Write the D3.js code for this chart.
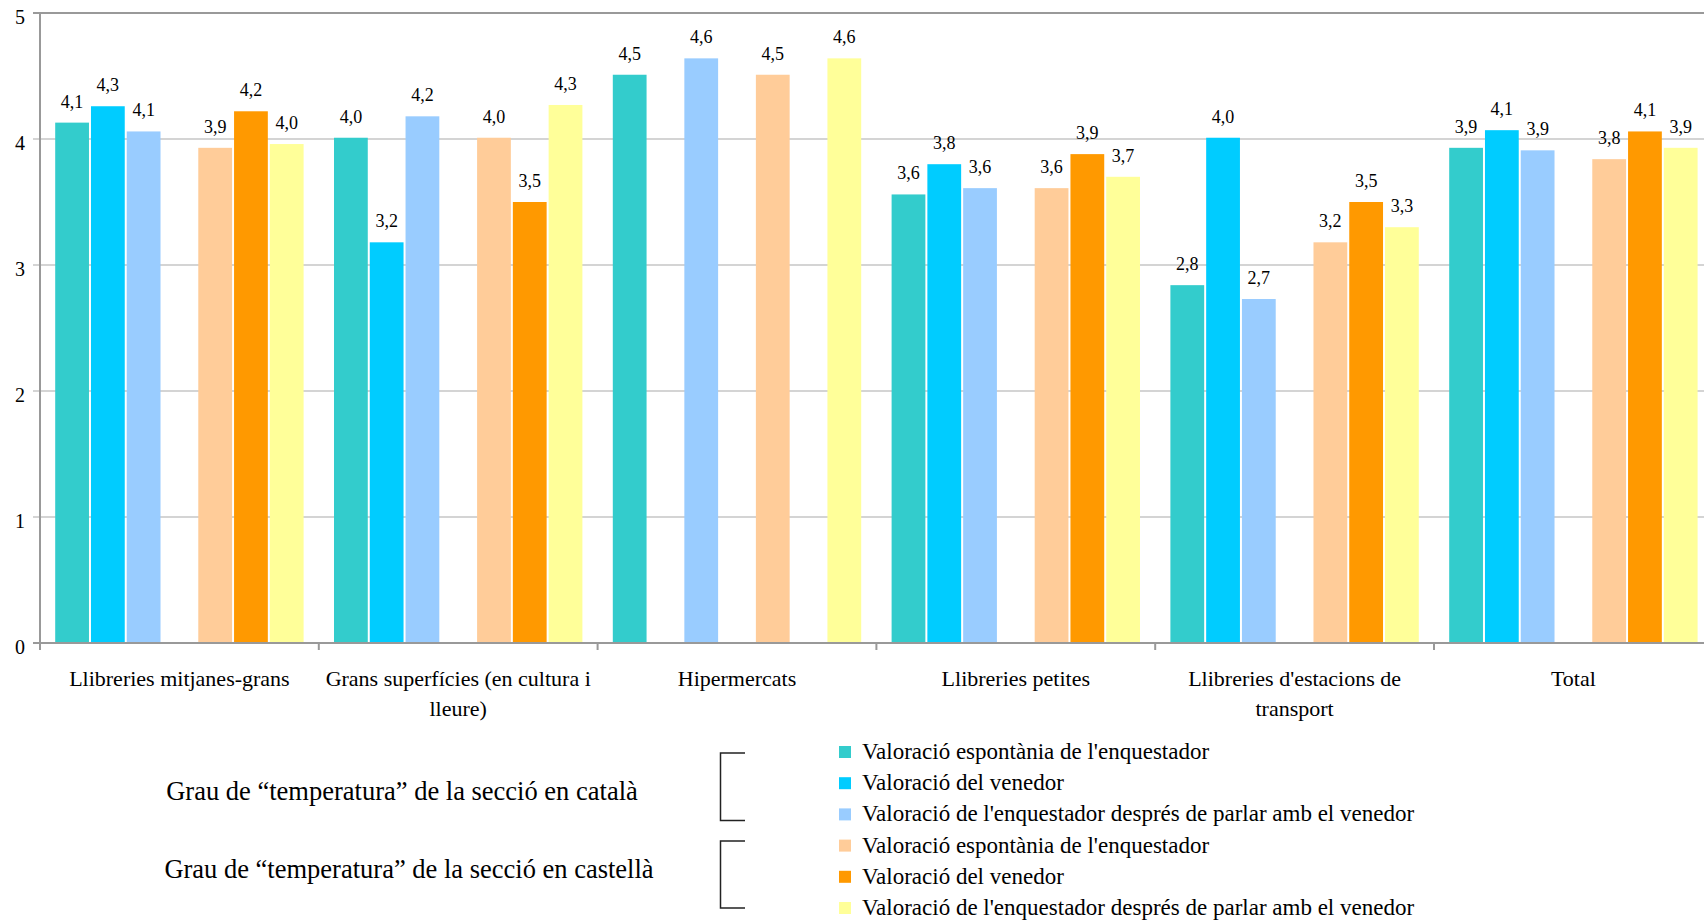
<!DOCTYPE html>
<html lang="ca">
    <head>
        <meta charset="utf-8">
        <script type="text/javascript" src="https://cdn.jsdelivr.net/npm/d3@7/dist/d3.min.js"></script>
        <style type="text/css">
        body{
          margin: 0;
          background: #fff;
          font-family: "Liberation Serif", serif;
        }
        </style>
    </head>
    <body>
        <script type="text/javascript">
        // categories and wrapped tick labels
        var categories = ["Llibreries mitjanes-grans", "Grans superfícies (en cultura i lleure)", "Hipermercats",
                          "Llibreries petites", "Llibreries d'estacions de transport", "Total"];
        var categoryLines = [["Llibreries mitjanes-grans"], ["Grans superfícies (en cultura i", "lleure)"], ["Hipermercats"],
                             ["Llibreries petites"], ["Llibreries d'estacions de", "transport"], ["Total"]];

        // values per series (null = no bar)
        var catEspontania = [4.13, 4.01, 4.51, 3.56, 2.84, 3.93];
        var catVenedor    = [4.26, 3.18, null, 3.80, 4.01, 4.07];
        var catDespres    = [4.06, 4.18, 4.64, 3.61, 2.73, 3.91];
        var casEspontania = [3.93, 4.01, 4.51, 3.61, 3.18, 3.84];
        var casVenedor    = [4.22, 3.50, null, 3.88, 3.50, 4.06];
        var casDespres    = [3.96, 4.27, 4.64, 3.70, 3.30, 3.93];

        var seriesNames = ["Valoració espontània de l'enquestador", "Valoració del venedor",
                           "Valoració de l'enquestador després de parlar amb el venedor",
                           "Valoració espontània de l'enquestador", "Valoració del venedor",
                           "Valoració de l'enquestador després de parlar amb el venedor"];
        var groupLabels = ["Grau de “temperatura” de la secció en català", "Grau de “temperatura” de la secció en castellà"];
        var yTicks = [0, 1, 2, 3, 4, 5];

        var colors = ["#33cccc", "#00ccff", "#99ccff", "#ffcc99", "#ff9900", "#ffff99"];
        // slot in each cluster (slot 3 stays empty between the two languages)
        var slots = [0, 1, 2, 4, 5, 6];

        var allSeries = [catEspontania, catVenedor, catDespres, casEspontania, casVenedor, casDespres];

        var w = 1704;
        var h = 924;
        var plotLeft = 40, plotTop = 13, plotBottom = 643;
        var catWidth = 278.8;

        var svg = d3.select("body").append("svg")
            .attr("width", w)
            .attr("height", h);

        var x0 = d3.scaleBand()
            .domain(categories)
            .range([plotLeft, plotLeft + catWidth * categories.length]);

        var x1 = d3.scaleBand()
            .domain(d3.range(7))
            .range([14.2, catWidth - 14.2]);

        var y = d3.scaleLinear()
            .domain([0, 5])
            .range([plotBottom, plotTop]);

        // gridlines
        svg.append("g")
            .selectAll("line")
            .data(yTicks.filter(function(d){ return d > 0; }))
            .enter()
            .append("line")
            .attr("x1", plotLeft - 7)
            .attr("x2", w)
            .attr("y1", function(d){ return y(d); })
            .attr("y2", function(d){ return y(d); })
            .attr("stroke", function(d){ return d == 5 ? "#999" : "#c6c6c6"; })
            .attr("stroke-width", function(d){ return d == 5 ? 2 : 1.5; });

        // y tick labels
        svg.append("g")
            .selectAll("text")
            .data(yTicks)
            .enter()
            .append("text")
            .attr("x", 20)
            .attr("y", function(d){ return y(d) + 11; })
            .attr("text-anchor", "middle")
            .style("font-size", "20px")
            .text(function(d){ return d; });

        // bars
        var fmt = function(v){ return d3.format(".1f")(v).replace(".", ","); };

        allSeries.forEach(function(values, s) {
            var g = svg.append("g");
            var data = values.map(function(v, i){ return {cat: categories[i], v: v}; })
                             .filter(function(d){ return d.v !== null; });

            g.selectAll("rect")
                .data(data)
                .enter()
                .append("rect")
                .attr("x", function(d){ return x0(d.cat) + x1(slots[s]) + 1; })
                .attr("width", x1.bandwidth() - 2)
                .attr("y", function(d){ return y(d.v); })
                .attr("height", function(d){ return plotBottom - y(d.v); })
                .attr("fill", colors[s]);

            g.selectAll("text")
                .data(data)
                .enter()
                .append("text")
                .attr("x", function(d){ return x0(d.cat) + x1(slots[s]) + x1.bandwidth() / 2; })
                .attr("y", function(d){ return y(d.v) - 15; })
                .attr("text-anchor", "middle")
                .style("font-size", "18px")
                .text(function(d){ return fmt(d.v); });
        });

        // axes lines
        svg.append("line")
            .attr("x1", plotLeft).attr("x2", plotLeft)
            .attr("y1", plotTop).attr("y2", plotBottom)
            .attr("stroke", "#999").attr("stroke-width", 2);
        svg.append("line")
            .attr("x1", plotLeft - 7).attr("x2", w)
            .attr("y1", plotBottom).attr("y2", plotBottom)
            .attr("stroke", "#999").attr("stroke-width", 2);

        // category ticks
        svg.append("g")
            .selectAll("line")
            .data(categories)
            .enter()
            .append("line")
            .attr("x1", function(d){ return x0(d); })
            .attr("x2", function(d){ return x0(d); })
            .attr("y1", plotBottom)
            .attr("y2", plotBottom + 7)
            .attr("stroke", "#999")
            .attr("stroke-width", 2);

        // category labels
        var catLabel = svg.append("g")
            .selectAll("text")
            .data(categories)
            .enter()
            .append("text")
            .attr("text-anchor", "middle")
            .style("font-size", "22px")
            .attr("transform", function(d){ return "translate(" + (x0(d) + x0.bandwidth() / 2) + ",686)"; });

        catLabel.selectAll("tspan")
            .data(function(d, i){ return categoryLines[i]; })
            .enter()
            .append("tspan")
            .attr("x", 0)
            .attr("dy", function(d, i){ return i == 0 ? 0 : 30; })
            .text(function(d){ return d; });

        // legend
        var ly = d3.scalePoint()
            .domain(d3.range(seriesNames.length))
            .range([752, 908]);

        var legend = svg.append("g")
            .selectAll("g")
            .data(seriesNames)
            .enter()
            .append("g")
            .attr("transform", function(d, i){ return "translate(839," + ly(i) + ")"; });

        legend.append("rect")
            .attr("x", 0)
            .attr("y", -6)
            .attr("width", 12)
            .attr("height", 12)
            .attr("fill", function(d, i){ return colors[i]; });

        legend.append("text")
            .attr("x", 23)
            .attr("y", 7)
            .style("font-size", "23px")
            .text(function(d){ return d; });

        // brackets grouping the legend
        [[ly(0) + 1, ly(2) + 6], [ly(3) - 4.5, ly(5)]].forEach(function(r) {
            svg.append("path")
                .attr("d", "M745," + r[0] + "H720.5V" + r[1] + "H745")
                .attr("fill", "none")
                .attr("stroke", "#222")
                .attr("stroke-width", 1.5);
        });

        svg.append("g")
            .selectAll("text")
            .data(groupLabels)
            .enter()
            .append("text")
            .attr("x", function(d, i){ return i == 0 ? 402 : 409; })
            .attr("y", function(d, i){ return i == 0 ? ly(1) + 17 : ly(4) + 1; })
            .attr("text-anchor", "middle")
            .style("font-family", "'Liberation Serif', 'Times New Roman', serif")
            .style("font-size", "26.5px")
            .text(function(d){ return d; });
        </script>
    </body>
</html>
